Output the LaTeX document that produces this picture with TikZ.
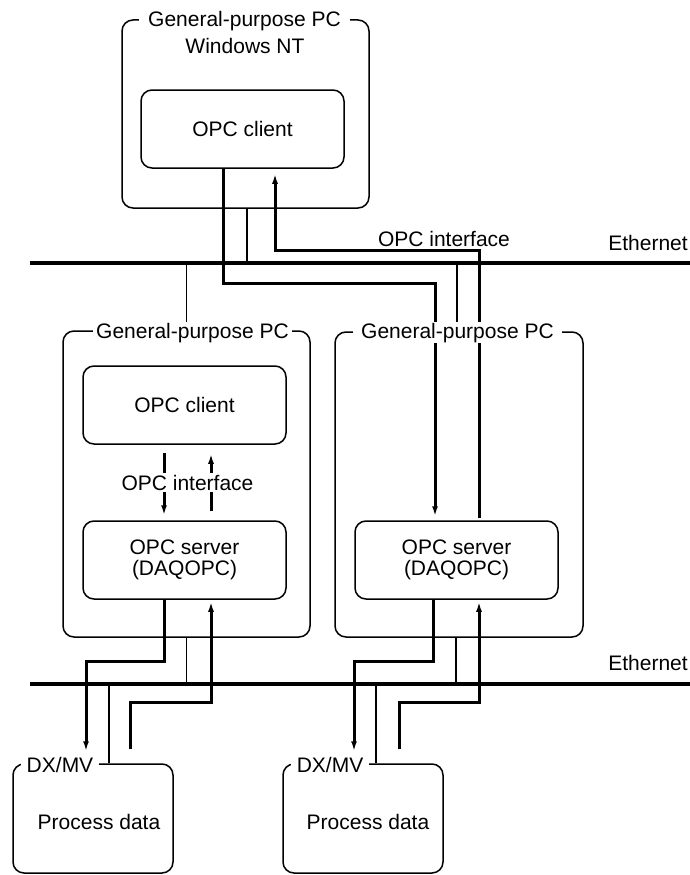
\documentclass[tikz,border=0pt]{standalone}
\usepackage{fontspec}
\setmainfont{Liberation Sans}
\usetikzlibrary{arrows.meta}
\begin{document}
\begin{tikzpicture}[x=1pt,y=-1pt,
  box/.style={draw, line width=1.5pt, rounded corners=11pt, inner sep=0pt,
    font=\fontsize{21}{21}\selectfont, align=center},
  lab/.style={fill=white, inner xsep=6pt, inner ysep=1pt, anchor=base,
    font=\fontsize{21}{21}\selectfont},
  txt/.style={inner sep=0pt, anchor=base, font=\fontsize{21}{21}\selectfont},
  thickc/.style={line width=3pt},
  thinc/.style={line width=1.3pt},
  tip/.style={-{Latex[length=10pt,width=6pt]}},
  eth/.style={line width=4.8pt}]
\useasboundingbox (0,0) rectangle (690,875);

% boxes
\node[box, minimum width=247pt, minimum height=188pt] (pc0) at (245.5,114) {};
\node[box, minimum width=203pt, minimum height=78pt] (client0) at (242.5,129) {OPC client};
\node[box, minimum width=247pt, minimum height=306pt] (pc1) at (186.5,484) {};
\node[box, minimum width=203pt, minimum height=78pt] (client1) at (184.5,405) {OPC client};
\node[box, minimum width=203pt, minimum height=78pt] (server1) at (184.5,560) {OPC server\\(DAQOPC)};
\node[box, minimum width=248pt, minimum height=305pt] (pc2) at (459,484.5) {};
\node[box, minimum width=203pt, minimum height=78pt] (server2) at (456.5,560) {OPC server\\(DAQOPC)};
\node[box, minimum width=160pt, minimum height=109pt] (dx1) at (93,818.5) {};
\node[box, minimum width=160pt, minimum height=109pt] (dx2) at (363,818.5) {};

% helper levels
\coordinate (e1) at (30,263);
\coordinate (e1r) at (690,263);
\coordinate (e2) at (30,684);
\coordinate (e2r) at (690,684);
\coordinate (a1) at (0,250);
\coordinate (b1) at (0,283);
\coordinate (c1) at (0,661);
\coordinate (d1) at (0,702);

% ethernet
\draw[eth] (e1) -- (e1r);
\draw[eth] (e2) -- (e2r);

% thin drops
\draw[thinc] ([xshift=1.5pt]pc0.south) -- ([xshift=1.5pt]pc0.south |- e1);
\draw[thinc] (pc1.north |- e1) -- (pc1.north);
\draw[thinc] ([xshift=-2pt]pc2.north |- e1) -- ([xshift=-2pt]pc2.north);
\draw[thinc] (pc1.south) -- (pc1.south |- e2);
\draw[thinc] ([xshift=-3pt]pc2.south) -- ([xshift=-3pt]pc2.south |- e2);
\draw[thinc] ([xshift=16pt]dx1.north |- e2) -- ([xshift=16pt]dx1.north);
\draw[thinc] ([xshift=13pt]dx2.north |- e2) -- ([xshift=13pt]dx2.north);

% top connectors
\draw[thickc,tip,shorten >=4pt] ([xshift=-19.5pt]client0.south)
  |- ([xshift=-21.5pt]server2.north |- b1) -- ([xshift=-21.5pt]server2.north);
\draw[thickc,tip,shorten <=2pt,shorten >=5pt] ([xshift=22.5pt]server2.north)
  |- ([xshift=32.5pt]client0.south |- a1) -- ([xshift=32.5pt]client0.south);

% left internal
\draw[thickc,tip,shorten <=8pt,shorten >=5pt] ([xshift=-20.5pt]client1.south) -- ([xshift=-20.5pt]server1.north);
\draw[thickc,tip,shorten <=9pt,shorten >=9pt] ([xshift=26.5pt]server1.north) -- ([xshift=26.5pt]client1.south);

% bottom left
\draw[thickc,tip,shorten >=12pt] ([xshift=-20.5pt]server1.south)
  |- ([xshift=-7pt]dx1.north |- c1) -- ([xshift=-7pt]dx1.north);
\draw[thickc,tip,shorten <=14pt,shorten >=2pt] ([xshift=37pt]dx1.north)
  |- ([xshift=26.5pt]server1.south |- d1) -- ([xshift=26.5pt]server1.south);

% bottom right
\draw[thickc,tip,shorten >=12pt] ([xshift=-23.5pt]server2.south)
  |- ([xshift=-9pt]dx2.north |- c1) -- ([xshift=-9pt]dx2.north);
\draw[thickc,tip,shorten <=14pt,shorten >=2pt] ([xshift=36pt]dx2.north)
  |- ([xshift=22.5pt]server2.south |- d1) -- ([xshift=22.5pt]server2.south);

% labels
\node[lab, inner xsep=9pt] (pc0lab) at (244.5,27) {General-purpose PC};
\node[txt] (pc0os) at (245,54) {Windows NT};
\node[lab, inner xsep=3pt] (pc1lab) at (192.5,338) {General-purpose PC};
\node[lab, inner xsep=8pt] (pc2lab) at (457.5,338) {General-purpose PC};
\node[lab, inner xsep=6pt] (dx1lab) at (60,772) {DX/MV};
\node[lab, inner xsep=6pt] (dx2lab) at (330,772) {DX/MV};
\node[txt] (pd1) at (99,829) {Process data};
\node[txt] (pd2) at (368,829) {Process data};
\node[lab, inner xsep=2pt, inner ysep=2pt] (if1) at (187.5,490) {OPC interface};
\node[txt] (if0) at (444,246) {OPC interface};
\node[txt] (eth1lab) at (648,250) {Ethernet};
\node[txt] (eth2lab) at (648,670) {Ethernet};
\end{tikzpicture}
\end{document}
